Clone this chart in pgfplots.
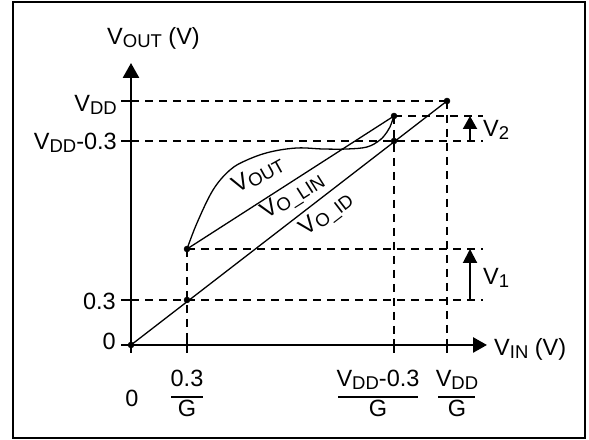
\documentclass[border=0pt]{standalone}
\usepackage{fontspec}
\setmainfont{Liberation Sans}
\usepackage{pgfplots}
\pgfplotsset{compat=1.18}
\usetikzlibrary{arrows.meta}

% subscripts a bit larger and lower than \textsubscript
\newcommand{\sub}[1]{\raisebox{-3bp}{\fontsize{18.5bp}{20bp}\selectfont #1}}
\newcommand{\V}[1]{V\sub{#1}}
\DeclareRobustCommand{\us}{\char95\relax}

\begin{document}
\begin{tikzpicture}[
  lbl/.style={inner sep=0pt, font=\fontsize{23.5bp}{26bp}\selectfont},
  guide/.style={black, line width=2bp, dash pattern=on 8bp off 6bp},
  thin/.style={black, line width=1.3bp},
  tick/.style={line width=2.2bp},
]
\begin{axis}[hide axis, scale only axis, width=589bp, height=440bp,
  xmin=-131, xmax=458, ymin=-95, ymax=345, clip=false]

% page and frame
\path (axis cs:-131,-95) rectangle (axis cs:458,345);
\draw[line width=2.7bp] (axis cs:-118,-93) rectangle (axis cs:454,343);

% dashed guides
\addplot[guide] coordinates {(0,244) (316,244)};
\addplot[guide] coordinates {(263,229) (352,229)};
\addplot[guide] coordinates {(0,204) (352,204)};
\addplot[guide] coordinates {(56,96) (352,96)};
\addplot[guide] coordinates {(0,45) (352,45)};
\addplot[guide] coordinates {(56,96) (56,0)};
\addplot[guide] coordinates {(263,229) (263,0)};
\addplot[guide] coordinates {(316,244) (316,0)};

% transfer curves
\addplot[thin] coordinates {(0,0) (316,244)};
\addplot[thin] coordinates {(56,96) (263,229)};
\addplot[thin, smooth, tension=0.6] coordinates {
  (56,96) (66,122) (82,155) (99,175) (116,185) (139,193) (166,197)
  (192,196) (216,196) (236,198) (249,205) (256,213) (259,218) (263,229)};
\addplot[only marks, mark=*, mark size=3bp, black] coordinates {
  (0,0) (56,45) (56,96) (263,204) (263,229) (316,244)};

% axes
\draw[line width=2.7bp, -{Triangle[length=15bp,width=16bp]}] (axis cs:0,-8) -- (axis cs:0,282);
\draw[line width=2.7bp, -{Triangle[length=14bp,width=15bp]}] (axis cs:-10,0) -- (axis cs:356,0);
\draw[tick] (axis cs:-10,45) -- (axis cs:0,45);
\draw[tick] (axis cs:-10,204) -- (axis cs:0,204);
\draw[tick] (axis cs:-10,244) -- (axis cs:0,244);
\draw[tick] (axis cs:56,-8) -- (axis cs:56,6);
\draw[tick] (axis cs:263,-8) -- (axis cs:263,6);
\draw[tick] (axis cs:316,-8) -- (axis cs:316,6);

% V1, V2 arrows
\draw[line width=2bp, -{Triangle[length=14bp,width=14bp]}] (axis cs:339,45) -- (axis cs:339,96);
\draw[line width=2bp, -{Triangle[length=13bp,width=14bp]}] (axis cs:339,204) -- (axis cs:339,229);
\node[lbl, anchor=base west] at (axis cs:352,60) {\V{1}};
\node[lbl, anchor=base west] at (axis cs:352,208) {\V{2}};

% axis titles and tick labels
\node[lbl, anchor=base west] at (axis cs:-24,300) {\V{OUT} (V)};
\node[lbl, anchor=base west] at (axis cs:363,-11) {\V{IN} (V)};
\node[lbl, anchor=base east] at (axis cs:-14,233) {\V{DD}};
\node[lbl, anchor=base east] at (axis cs:-14,195) {\V{DD}-0.3};
\node[lbl, anchor=base east] at (axis cs:-15,35) {0.3};
\node[lbl, anchor=base east] at (axis cs:-15,-5) {0};
\node[lbl, anchor=base] at (axis cs:1,-62) {0};

\node[lbl, anchor=base] at (axis cs:56,-42) {0.3};
\draw[line width=2bp] (axis cs:40,-52) -- (axis cs:72,-52);
\node[lbl, anchor=base] at (axis cs:56,-72) {G};

\node[lbl, anchor=base] at (axis cs:247,-42) {\V{DD}-0.3};
\draw[line width=2bp] (axis cs:207,-52) -- (axis cs:287,-52);
\node[lbl, anchor=base] at (axis cs:247,-72) {G};

\node[lbl, anchor=base] at (axis cs:326,-42) {\V{DD}};
\draw[line width=2bp] (axis cs:307,-52) -- (axis cs:344,-52);
\node[lbl, anchor=base] at (axis cs:326,-72) {G};

% curve names
\node[lbl, rotate=29] at (axis cs:127,170) {\V{OUT}};
\node[lbl, rotate=32.5] at (axis cs:162,148) {\V{O\us LIN}};
\node[lbl, rotate=37.7] at (axis cs:196,130) {\V{O\us ID}};
\end{axis}
\end{tikzpicture}
\end{document}
